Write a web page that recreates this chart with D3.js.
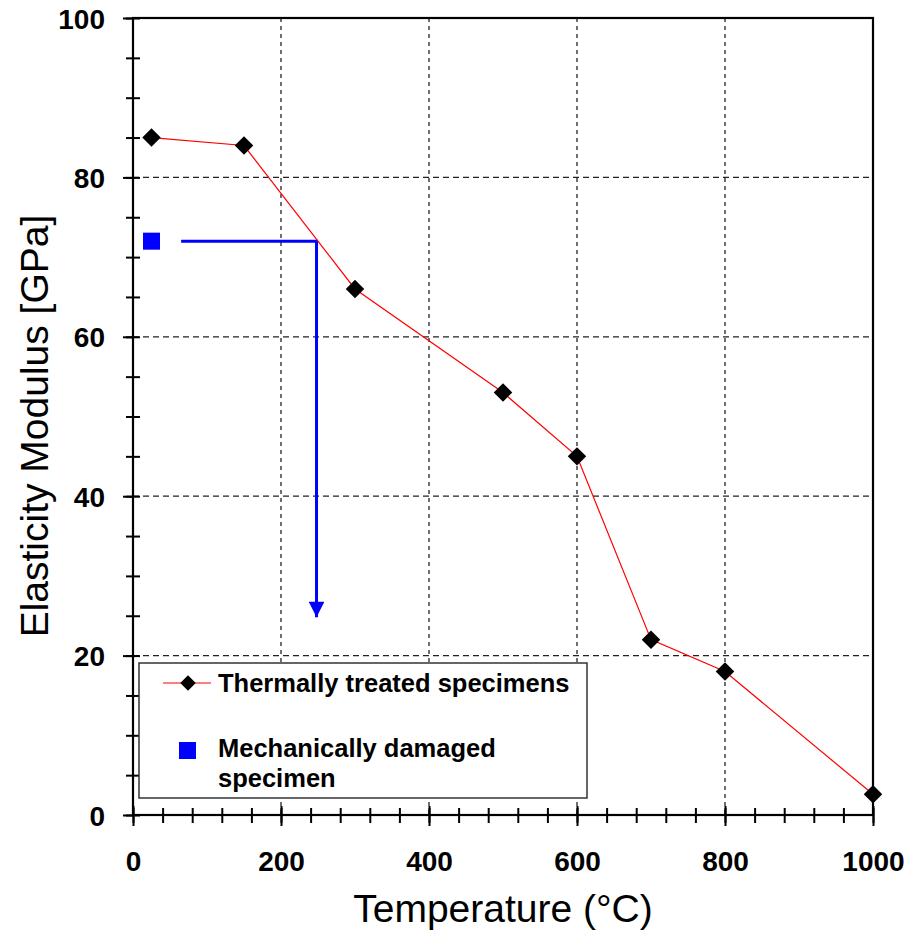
<!DOCTYPE html>
<html>
<head>
<meta charset="utf-8">
<script src="https://cdn.jsdelivr.net/npm/d3@7/dist/d3.min.js"></script>
<style>
  html, body { margin: 0; padding: 0; background: #fff; }
  svg { display: block; font-family: "Liberation Sans", Arial, sans-serif; }
</style>
</head>
<body>
<svg id="chart" width="915" height="932"></svg>
<script>
// Elastic modulus of thermally treated specimens vs. temperature
const temperatures = [25, 150, 300, 500, 600, 700, 800, 1000];
const modulus      = [85, 84, 66, 53, 45, 22, 18, 2.6];

// Single mechanically damaged specimen
const damagedTemp = [25];
const damagedModulus = [72];

// Read-off arrow: from the damaged value across to the curve, then down
const arrowTemp    = [65, 248, 248];
const arrowModulus = [72, 72, 24.8];

const xMajorTicks = [0, 200, 400, 600, 800, 1000];
const xMinorTicks = d3.range(0, 1001, 40);
const yMajorTicks = [0, 20, 40, 60, 80, 100];
const yMinorTicks = d3.range(0, 101, 5);

const legendLabels = ["Thermally treated specimens", "Mechanically damaged", "specimen"];
const xTitle = "Temperature (\u00B0C)";
const yTitle = "Elasticity Modulus [GPa]";

const margin = { left: 133, top: 18, right: 42, bottom: 117 };
const W = 915, H = 932;
const iw = W - margin.left - margin.right;
const ih = H - margin.top - margin.bottom;

const svg = d3.select("#chart");
const g = svg.append("g").attr("transform", `translate(${margin.left},${margin.top})`);

const x = d3.scaleLinear().domain([0, 1000]).range([0, iw]);
const y = d3.scaleLinear().domain([0, 100]).range([ih, 0]);

// Dashed grid
g.append("g").selectAll("line.vg")
  .data(xMajorTicks.filter(d => d > 0 && d < 1000)).enter().append("line")
  .attr("x1", d => x(d)).attr("x2", d => x(d))
  .attr("y1", 0).attr("y2", ih)
  .attr("stroke", "#222").attr("stroke-width", 1.3).attr("stroke-dasharray", "4,4");
g.append("g").selectAll("line.hg")
  .data(yMajorTicks.filter(d => d > 0 && d < 100)).enter().append("line")
  .attr("x1", 0).attr("x2", iw)
  .attr("y1", d => y(d)).attr("y2", d => y(d))
  .attr("stroke", "#222").attr("stroke-width", 1.3).attr("stroke-dasharray", "6,4");

function styleAxis(sel) {
  sel.select(".domain").remove();
  sel.selectAll(".tick line").attr("stroke", "#000").attr("stroke-width", 2);
}

// X axis: ticks cross the axis line
const xAxisG = g.append("g").attr("transform", `translate(0,${ih})`);
xAxisG.append("g").call(d3.axisBottom(x).tickValues(xMinorTicks).tickSize(8).tickFormat("")).call(styleAxis);
xAxisG.append("g").call(d3.axisBottom(x).tickValues(xMinorTicks).tickSize(-7).tickFormat("")).call(styleAxis);
xAxisG.append("g").call(d3.axisBottom(x).tickValues(xMajorTicks).tickSize(11).tickFormat("")).call(styleAxis);
xAxisG.append("g").call(d3.axisBottom(x).tickValues(xMajorTicks).tickSize(-9).tickFormat("")).call(styleAxis);
const xLab = xAxisG.append("g")
  .call(d3.axisBottom(x).tickValues(xMajorTicks).tickSize(0).tickPadding(0).tickFormat(d3.format("d")));
xLab.select(".domain").remove();
xLab.selectAll("text").attr("y", 56).attr("dy", 0)
  .attr("font-size", 28).attr("font-weight", "bold").attr("fill", "#000")
  .attr("font-family", "'Liberation Sans', Arial, sans-serif");

// Y axis
const yAxisG = g.append("g");
yAxisG.append("g").call(d3.axisLeft(y).tickValues(yMinorTicks).tickSize(7).tickFormat("")).call(styleAxis);
yAxisG.append("g").call(d3.axisLeft(y).tickValues(yMinorTicks).tickSize(-7).tickFormat("")).call(styleAxis);
yAxisG.append("g").call(d3.axisLeft(y).tickValues(yMajorTicks).tickSize(10).tickFormat("")).call(styleAxis);
const yLab = yAxisG.append("g")
  .call(d3.axisLeft(y).tickValues(yMajorTicks).tickSize(0).tickPadding(0).tickFormat(d3.format("d")));
yLab.select(".domain").remove();
yLab.selectAll("text").attr("x", -28).attr("dy", 10)
  .attr("font-size", 28).attr("font-weight", "bold").attr("fill", "#000")
  .attr("font-family", "'Liberation Sans', Arial, sans-serif");

// Plot frame
g.append("rect").attr("x", 0).attr("y", 0).attr("width", iw).attr("height", ih)
  .attr("fill", "none").attr("stroke", "#000").attr("stroke-width", 2.2);

// Axis titles
svg.append("text")
  .attr("x", margin.left + iw / 2).attr("y", 922)
  .attr("text-anchor", "middle").attr("font-size", 39).attr("fill", "#000")
  .text(xTitle);
svg.append("text")
  .attr("transform", `translate(48,${426}) rotate(-90)`)
  .attr("text-anchor", "middle").attr("font-size", 39).attr("fill", "#000")
  .text(yTitle);

// Read-off arrow
const arrowPts = arrowTemp.map((t, i) => [x(t), y(arrowModulus[i])]);
const defs = svg.append("defs");
defs.append("marker").attr("id", "arrowhead")
  .attr("viewBox", "0 0 10 10").attr("refX", 10).attr("refY", 5)
  .attr("markerWidth", 5.5).attr("markerHeight", 5.2).attr("markerUnits", "strokeWidth")
  .attr("orient", "auto")
  .append("path").attr("d", "M0,0 L10,5 L0,10 z").attr("fill", "#0000ff");
g.append("path")
  .attr("d", d3.line()(arrowPts))
  .attr("fill", "none").attr("stroke", "#0000ff").attr("stroke-width", 3)
  .attr("stroke-linejoin", "miter")
  .attr("marker-end", "url(#arrowhead)");

// Thermally treated series
const series = temperatures.map((t, i) => [t, modulus[i]]);
g.append("path")
  .datum(series)
  .attr("d", d3.line().x(d => x(d[0])).y(d => y(d[1])))
  .attr("fill", "none").attr("stroke", "#ff0000").attr("stroke-width", 1.2);

g.append("g").selectAll("path")
  .data(series).enter().append("path")
  .attr("d", d3.symbol().type(d3.symbolSquare).size(170))
  .attr("transform", d => `translate(${x(d[0])},${y(d[1])}) rotate(45)`)
  .attr("fill", "#000");

// Damaged specimen
g.append("g").selectAll("rect")
  .data(damagedTemp.map((t, i) => [t, damagedModulus[i]])).enter().append("rect")
  .attr("x", d => x(d[0]) - 8.5).attr("y", d => y(d[1]) - 8.5)
  .attr("width", 17).attr("height", 17).attr("fill", "#0000ff");

// Legend
const lg = svg.append("g").attr("transform", "translate(139,663)");
lg.append("rect").attr("width", 448).attr("height", 135)
  .attr("fill", "#fff").attr("stroke", "#333").attr("stroke-width", 1.5);
lg.append("line").attr("x1", 24).attr("x2", 72).attr("y1", 20).attr("y2", 20)
  .attr("stroke", "#ff0000").attr("stroke-width", 1.2);
lg.append("path").attr("d", d3.symbol().type(d3.symbolSquare).size(120))
  .attr("transform", "translate(49,20) rotate(45)").attr("fill", "#000");
lg.append("rect").attr("x", 40).attr("y", 79).attr("width", 17).attr("height", 17).attr("fill", "#0000ff");
const legendY = [29, 94, 124];
lg.selectAll("text.leg").data(legendLabels).enter().append("text")
  .attr("x", 79).attr("y", (d, i) => legendY[i])
  .attr("font-size", 25.5).attr("font-weight", "bold").attr("fill", "#000")
  .text(d => d);
</script>
</body>
</html>
